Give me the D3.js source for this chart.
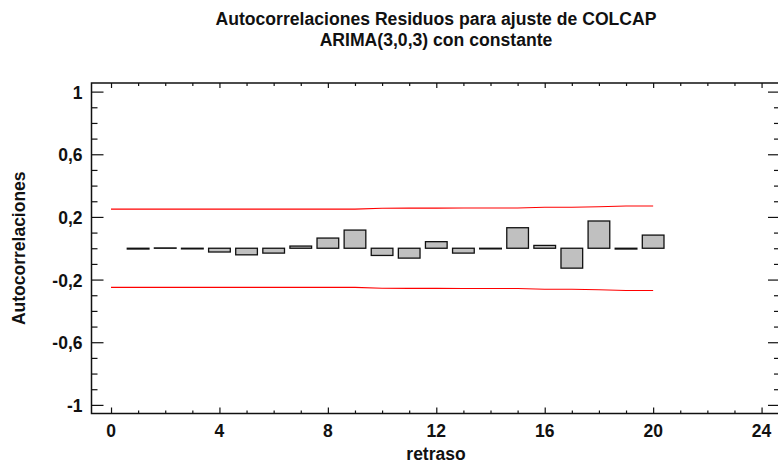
<!DOCTYPE html>
<html>
<head>
<meta charset="utf-8">
<script src="https://cdn.jsdelivr.net/npm/d3@7"></script>
<style>
  html, body { margin: 0; padding: 0; background: #fff; }
  svg { display: block; font-family: "Liberation Sans", Arial, sans-serif; }
</style>
</head>
<body>
<svg id="chart" width="778" height="464"></svg>
<script>
// Residual autocorrelations by lag
const lags = [1, 2, 3, 4, 5, 6, 7, 8, 9, 10, 11, 12, 13, 14, 15, 16, 17, 18, 19, 20];
const autocorr = [-0.005, 0.002, -0.004, -0.024, -0.042, -0.031, 0.014, 0.065, 0.116, -0.046,
                  -0.063, 0.042, -0.031, -0.004, 0.131, 0.018, -0.127, 0.174, -0.005, 0.084];
// 95% probability limits, lags 0..20
const limitLags = [0, 1, 2, 3, 4, 5, 6, 7, 8, 9, 10, 11, 12, 13, 14, 15, 16, 17, 18, 19, 20];
const limits = [0.250, 0.250, 0.250, 0.250, 0.250, 0.250, 0.250, 0.250, 0.250, 0.250, 0.255,
                0.256, 0.256, 0.257, 0.257, 0.257, 0.262, 0.262, 0.265, 0.270, 0.270];
const xTicks = [0, 4, 8, 12, 16, 20, 24];
const yTicks = [-1, -0.6, -0.2, 0.2, 0.6, 1];
const titleLines = ["Autocorrelaciones Residuos para ajuste de COLCAP", "ARIMA(3,0,3) con constante"];
const xLabel = "retraso";
const yLabel = "Autocorrelaciones";

const svg = d3.select("#chart");
const plotL = 91.5, plotR = 780, plotT = 83, plotB = 413.5;

const x = d3.scaleLinear().domain([-0.72, 24.68]).range([plotL, plotR]);
const y = d3.scaleLinear().domain([-1.055, 1.055]).range([plotB, plotT]);
// decimal comma, plain hyphen for negatives
const fmt = v => d3.format("~g")(v).replace(".", ",").replace("\u2212", "-");

// titles
svg.append("g").selectAll("text").data(titleLines).join("text")
  .attr("x", 436).attr("y", (d, i) => 25 + i * 21)
  .attr("text-anchor", "middle").attr("font-size", 17.6).attr("font-weight", "bold")
  .attr("fill", "#111").text(d => d);

// confidence limits
const limitLine = d3.line().x((d, i) => x(limitLags[i])).y(d => y(d));
svg.append("path").attr("d", limitLine(limits))
  .attr("fill", "none").attr("stroke", "#ff0000").attr("stroke-width", 1.1);
svg.append("path").attr("d", limitLine(limits.map(v => -v)))
  .attr("fill", "none").attr("stroke", "#ff0000").attr("stroke-width", 1.1);

// bars
const bw = 0.8;
svg.append("g").selectAll("rect").data(lags).join("rect")
  .attr("x", d => x(d - bw / 2))
  .attr("width", x(bw) - x(0))
  .attr("y", (d, i) => y(Math.max(0, autocorr[i])))
  .attr("height", (d, i) => Math.abs(y(autocorr[i]) - y(0)))
  .attr("fill", "#c0c0c0").attr("stroke", "#111").attr("stroke-width", 1.3);

// axes, ticks pointing inward
const yMinor = d3.range(-10, 11).map(v => v / 10).filter(v => !yTicks.some(t => Math.abs(t - v) < 1e-9));
const xMinor = d3.range(0, 25).filter(v => v % 4 !== 0);

const axL = svg.append("g").attr("transform", `translate(${plotL},0)`)
  .call(d3.axisRight(y).tickValues(yTicks).tickSize(12).tickFormat(""));
const axLm = svg.append("g").attr("transform", `translate(${plotL},0)`)
  .call(d3.axisRight(y).tickValues(yMinor).tickSize(6).tickFormat(""));
const axR = svg.append("g").attr("transform", `translate(${plotR},0)`)
  .call(d3.axisLeft(y).tickValues(yTicks).tickSize(12).tickFormat(""));
const axRm = svg.append("g").attr("transform", `translate(${plotR},0)`)
  .call(d3.axisLeft(y).tickValues(yMinor).tickSize(6).tickFormat(""));
const axB = svg.append("g").attr("transform", `translate(0,${plotB})`)
  .call(d3.axisTop(x).tickValues(xTicks).tickSize(6).tickFormat(""));
const axBm = svg.append("g").attr("transform", `translate(0,${plotB})`)
  .call(d3.axisTop(x).tickValues(xMinor).tickSize(3).tickFormat(""));
const axT = svg.append("g").attr("transform", `translate(0,${plotT})`)
  .call(d3.axisBottom(x).tickValues(xTicks).tickSize(5).tickFormat(""));
const axTm = svg.append("g").attr("transform", `translate(0,${plotT})`)
  .call(d3.axisBottom(x).tickValues(xMinor).tickSize(3).tickFormat(""));
[axL, axLm, axR, axRm, axB, axBm, axT, axTm].forEach(g => {
  g.select(".domain").remove();
  g.selectAll("line").attr("stroke", "#111").attr("stroke-width", 1.2);
});

// frame
svg.append("rect").attr("x", plotL).attr("y", plotT)
  .attr("width", plotR - plotL).attr("height", plotB - plotT)
  .attr("fill", "none").attr("stroke", "#111").attr("stroke-width", 1.5);

// tick labels
svg.append("g").selectAll("text").data(yTicks).join("text")
  .attr("x", 82.5).attr("y", d => y(d)).attr("dy", "0.4em")
  .attr("text-anchor", "end").attr("font-size", 17.5).attr("font-weight", "bold")
  .attr("fill", "#111").text(fmt);
svg.append("g").selectAll("text").data(xTicks).join("text")
  .attr("x", d => x(d)).attr("y", 437)
  .attr("text-anchor", "middle").attr("font-size", 17.5).attr("font-weight", "bold")
  .attr("fill", "#111").text(fmt);

// axis titles
svg.append("text").attr("x", 436).attr("y", 460)
  .attr("text-anchor", "middle").attr("font-size", 17.5).attr("font-weight", "bold")
  .attr("fill", "#111").text(xLabel);
svg.append("text").attr("transform", `translate(25,${y(0)}) rotate(-90)`)
  .attr("text-anchor", "middle").attr("font-size", 17.5).attr("font-weight", "bold")
  .attr("fill", "#111").text(yLabel);
</script>
</body>
</html>
